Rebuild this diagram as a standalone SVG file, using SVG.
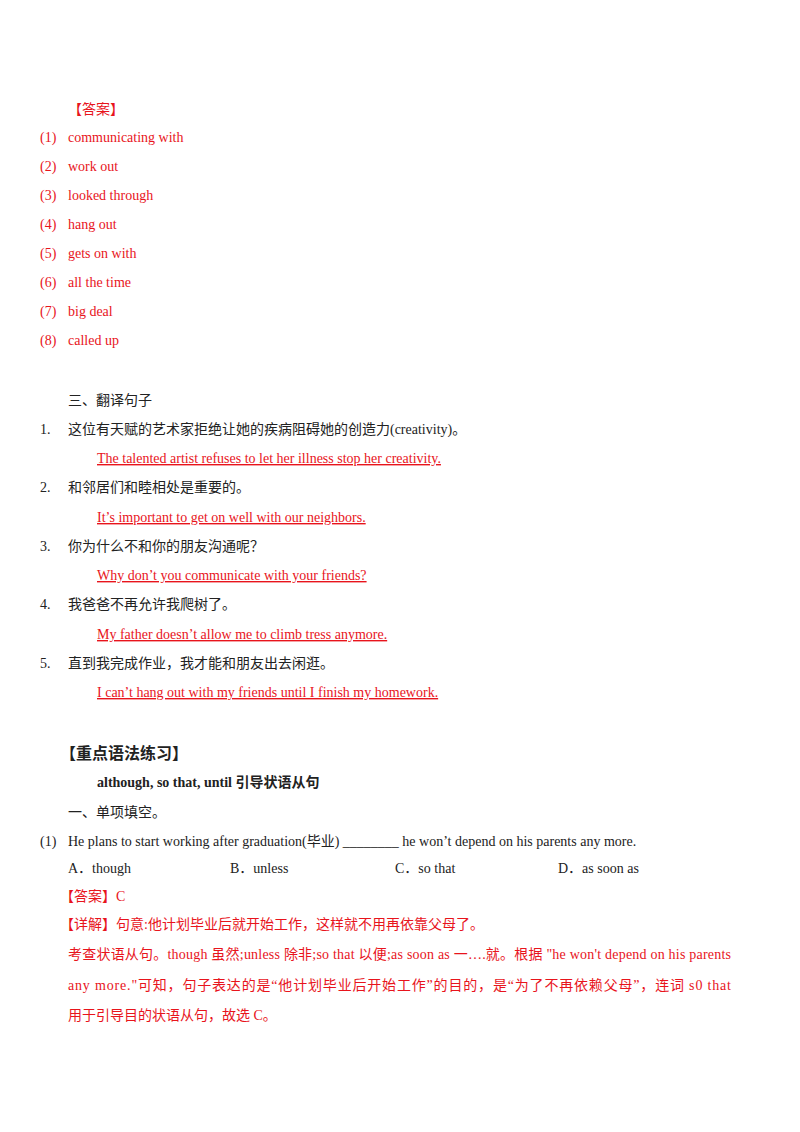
<svg xmlns="http://www.w3.org/2000/svg" width="800" height="1132" viewBox="0 0 800 1132">
<style>
text{font-family:"Liberation Serif","Noto Sans CJK SC",serif;font-size:14px;fill:#222}
.r{fill:#e8141c}
.u{text-decoration:underline}
.b{font-weight:bold}
</style>
<rect width="800" height="1132" fill="#fff"/>
<text x="68" y="114" class="r">【答案】</text>
<g class="r">
<text x="40" y="142" class="r">(1)</text><text x="68" y="142" class="r">communicating with</text>
<text x="40" y="171" class="r">(2)</text><text x="68" y="171" class="r">work out</text>
<text x="40" y="200" class="r">(3)</text><text x="68" y="200" class="r">looked through</text>
<text x="40" y="229" class="r">(4)</text><text x="68" y="229" class="r">hang out</text>
<text x="40" y="258" class="r">(5)</text><text x="68" y="258" class="r">gets on with</text>
<text x="40" y="287" class="r">(6)</text><text x="68" y="287" class="r">all the time</text>
<text x="40" y="316" class="r">(7)</text><text x="68" y="316" class="r">big deal</text>
<text x="40" y="345" class="r">(8)</text><text x="68" y="345" class="r">called up</text>
</g>
<text x="68" y="405">三、翻译句子</text>
<text x="40" y="434">1.</text><text x="68" y="434">这位有天赋的艺术家拒绝让她的疾病阻碍她的创造力(creativity)。</text>
<text x="97" y="463" class="r u">The talented artist refuses to let her illness stop her creativity.</text>
<text x="40" y="492">2.</text><text x="68" y="492">和邻居们和睦相处是重要的。</text>
<text x="97" y="522" class="r u">It’s important to get on well with our neighbors.</text>
<text x="40" y="551">3.</text><text x="68" y="551">你为什么不和你的朋友沟通呢？</text>
<text x="97" y="580" class="r u">Why don’t you communicate with your friends?</text>
<text x="40" y="609">4.</text><text x="68" y="609">我爸爸不再允许我爬树了。</text>
<text x="97" y="639" class="r u">My father doesn’t allow me to climb tress anymore.</text>
<text x="40" y="668">5.</text><text x="68" y="668">直到我完成作业，我才能和朋友出去闲逛。</text>
<text x="97" y="697" class="r u">I can’t hang out with my friends until I finish my homework.</text>
<text x="60" y="759" class="b" style="font-size:16px">【重点语法练习】</text>
<text x="97" y="787" class="b">although, so that, until 引导状语从句</text>
<text x="68" y="817">一、单项填空。</text>
<text x="40" y="846">(1)</text><text x="68" y="846">He plans to start working after graduation(毕业) ________ he won’t depend on his parents any more.</text>
<text x="68" y="873">A．though</text><text x="230" y="873">B．unless</text><text x="395" y="873">C．so that</text><text x="558" y="873">D．as soon as</text>
<text x="60" y="901" class="r">【答案】C</text>
<text x="60" y="929" class="r">【详解】句意:他计划毕业后就开始工作，这样就不用再依靠父母了。</text>
<text x="68" y="959" class="r" textLength="663" lengthAdjust="spacing">考查状语从句。though 虽然;unless 除非;so that 以便;as soon as 一….就。根据 "he won't depend on his parents</text>
<text x="68" y="990" class="r" textLength="663" lengthAdjust="spacing">any more."可知，句子表达的是“他计划毕业后开始工作”的目的，是“为了不再依赖父母”，连词 s0 that</text>
<text x="68" y="1020" class="r">用于引导目的状语从句，故选 C。</text>
</svg>
